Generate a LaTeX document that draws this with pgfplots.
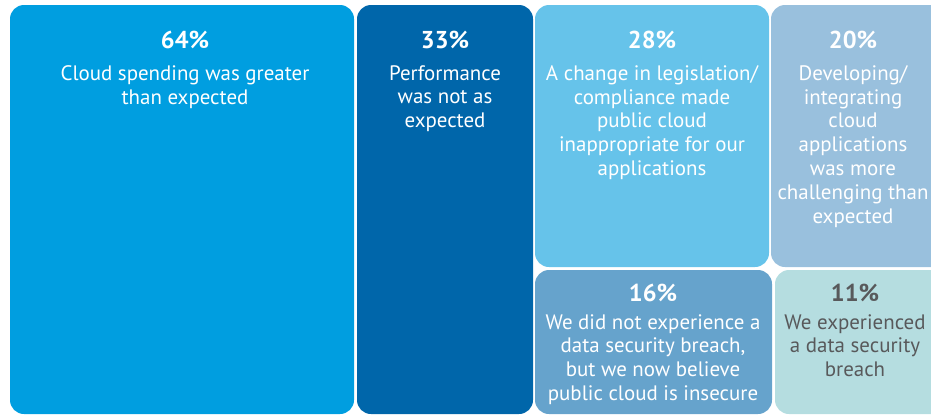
\documentclass[border=0pt]{standalone}
\usepackage{pgfplots}
\pgfplotsset{compat=1.18}
\usepackage{fontspec}
\setmainfont{PT Sans}
\definecolor{cA}{HTML}{009EE0}
\definecolor{cB}{HTML}{0066AA}
\definecolor{cC}{HTML}{66C3EA}
\definecolor{cD}{HTML}{99C0DD}
\definecolor{cE}{HTML}{66A3CC}
\definecolor{cF}{HTML}{B5DDE0}
\definecolor{gtext}{HTML}{58595B}
\tikzset{
  lab/.style={font=\fontsize{21}{24}\selectfont, anchor=north, inner sep=0pt, align=center},
  pct/.style={font=\fontsize{24.5}{24}\selectfont\bfseries, inner sep=0pt, align=center}}
\begin{document}
\begin{tikzpicture}
\begin{axis}[x=1bp,y=1bp,scale only axis,
  xmin=0,xmax=931,ymin=0,ymax=414,y dir=reverse,
  hide axis, clip=true, anchor=south west]
% treemap tiles: shares 64, 33, 28, 20, 16, 11 (%)
\addplot[fill=cA,draw=none,rounded corners=14bp] coordinates {(182,5) (354,5) (354,414) (10,414) (10,5) (182,5)};
\addplot[fill=cB,draw=none,rounded corners=14bp] coordinates {(445,5) (533,5) (533,414) (357,414) (357,5) (445,5)};
\addplot[fill=cC,draw=none,rounded corners=14bp] coordinates {(652,5) (769,5) (769,267) (535,267) (535,5) (652,5)};
\addplot[fill=cD,draw=none,rounded corners=14bp] coordinates {(860,5) (950,5) (950,267) (771,267) (771,5) (860,5)};
\addplot[fill=cE,draw=none,rounded corners=14bp] coordinates {(653,270) (772,270) (772,414) (535,414) (535,270) (653,270)};
\addplot[fill=cF,draw=none,rounded corners=14bp] coordinates {(860,270) (950,270) (950,414) (775,414) (775,270) (860,270)};
% labels
\node[pct,white] at (axis cs:185,40) {64\%};
\node[lab,white] at (axis cs:185,65) {Cloud spending was greater\\than expected};
\node[pct,white] at (axis cs:445,40) {33\%};
\node[lab,white] at (axis cs:445,65) {Performance\\was not as\\expected};
\node[pct,white] at (axis cs:652,40) {28\%};
\node[lab,white] at (axis cs:652,65) {A change in legislation/\\compliance made\\public cloud\\inappropriate for our\\applications};
\node[pct,white] at (axis cs:853,40) {20\%};
\node[lab,white] at (axis cs:853,65) {Developing/\\integrating\\cloud\\applications\\was more\\challenging than\\expected};
\node[pct,white] at (axis cs:653,293) {16\%};
\node[lab,white] at (axis cs:653,314) {We did not experience a\\data security breach,\\but we now believe\\public cloud is insecure};
\node[pct,gtext] at (axis cs:855,293) {11\%};
\node[lab,gtext] at (axis cs:855,314) {We experienced\\a data security\\breach};
\end{axis}
\pgfresetboundingbox
\path[use as bounding box] (current axis.south west) rectangle (current axis.north east);
\end{tikzpicture}
\end{document}
